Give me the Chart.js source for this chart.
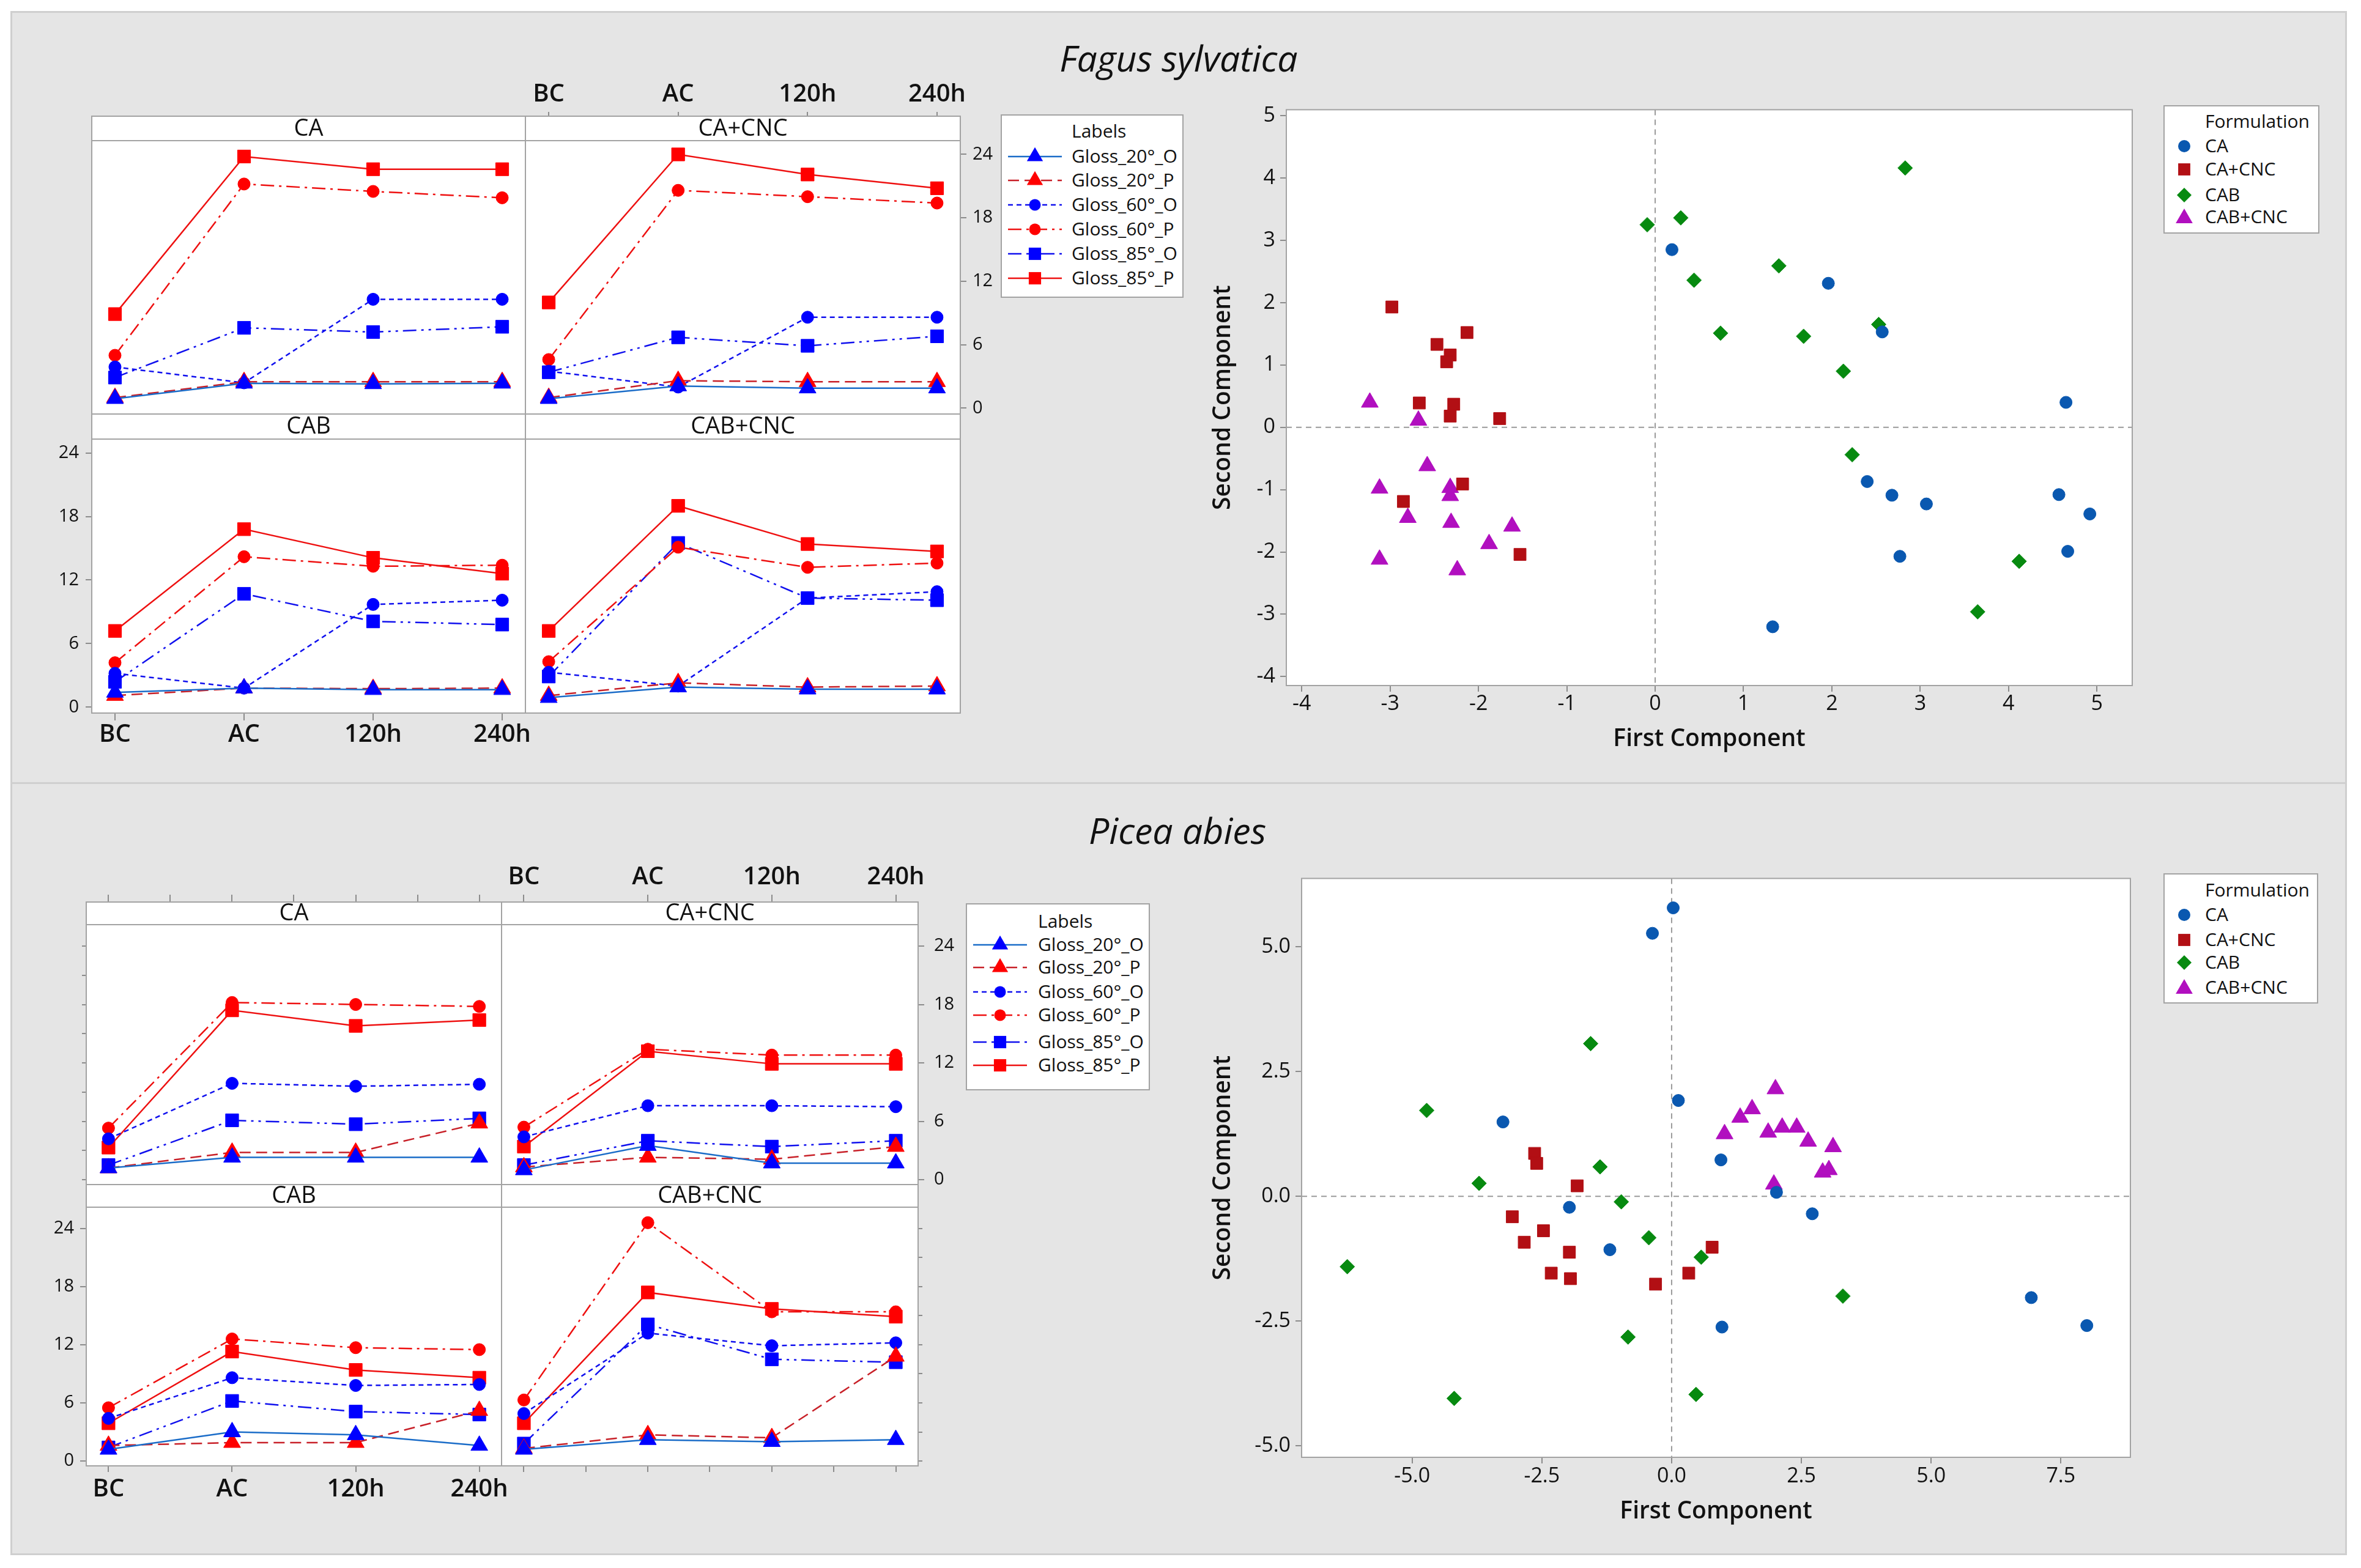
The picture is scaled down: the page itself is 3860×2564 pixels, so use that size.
<!DOCTYPE html>
<html>
<head>
<meta charset="utf-8">
<title>Gloss interaction plots and PCA scores</title>
<script src="https://cdn.jsdelivr.net/npm/chart.js@4.4.1/dist/chart.umd.min.js"></script>
<style>
  body { margin: 0; width: 3860px; height: 2564px; position: relative; overflow: hidden; background: #fff;
         font-family: 'Open Sans', 'Noto Sans', sans-serif; color: #111; }
  .frame { position: absolute; left: 17px; width: 3820px; box-sizing: border-box; background: #e5e5e5; border: 3px solid #cfcfcf; }
  .title { position: absolute; font-style: italic; font-weight: 500; font-size: 59px; transform: translate(-50%, -50%); white-space: nowrap; }
  canvas { position: absolute; }
  .legend { position: absolute; box-sizing: border-box; background: #fff; border: 2px solid #a3a3a3; }
  .legend .head, .legend .row { position: absolute; white-space: nowrap; font-size: 30px; font-weight: 500; line-height: 1; }
  .legend svg { position: absolute; }
</style>
</head>
<body>
<div class="frame" style="top:18px;height:1264px"></div>
<div class="frame" style="top:1279px;height:1264px"></div>
<div class="title" style="left:1927px;top:94px">Fagus sylvatica</div>
<div class="title" style="left:1925px;top:1357px">Picea abies</div>
<script>
// ── Categories and tick labels ────────────────────────────────────────────
const TIME_LABELS  = ['BC', 'AC', '120h', '240h'];
const GLOSS_SERIES = ['Gloss_20°_O', 'Gloss_20°_P', 'Gloss_60°_O', 'Gloss_60°_P', 'Gloss_85°_O', 'Gloss_85°_P'];
const FORMULATIONS = ['CA', 'CA+CNC', 'CAB', 'CAB+CNC'];
const TIME_TICKS        = [0, 1, 2, 3];
const TIME_MINOR_TICKS  = [0, 0.5, 1, 1.5, 2, 2.5, 3];
const GLOSS_TICKS       = [0, 6, 12, 18, 24];
const GLOSS_MINOR_TICKS = [0, 3, 6, 9, 12, 15, 18, 21, 24];

// ── Fagus sylvatica gloss (rows = GLOSS_SERIES, cols = TIME_LABELS) ───────
const fagusCA = [
  [0.9, 2.35, 2.3, 2.35],
  [1.0, 2.5, 2.5, 2.5],
  [3.9, 2.4, 10.3, 10.3],
  [5.0, 21.2, 20.5, 19.9],
  [2.9, 7.6, 7.2, 7.7],
  [8.9, 23.8, 22.6, 22.6]
];
const fagusCACNC = [
  [0.9, 2.1, 1.9, 1.9],
  [1.0, 2.6, 2.5, 2.5],
  [3.5, 2.0, 8.6, 8.6],
  [4.6, 20.6, 20.0, 19.4],
  [3.4, 6.7, 5.9, 6.8],
  [10.0, 24.0, 22.1, 20.8]
];
const fagusCAB = [
  [1.4, 1.8, 1.65, 1.65],
  [1.1, 1.8, 1.75, 1.8],
  [3.2, 1.8, 9.7, 10.1],
  [4.2, 14.2, 13.3, 13.4],
  [2.4, 10.7, 8.1, 7.8],
  [7.2, 16.8, 14.1, 12.6]
];
const fagusCABCNC = [
  [0.9, 1.9, 1.7, 1.7],
  [1.1, 2.3, 1.9, 2.0],
  [3.3, 2.0, 10.3, 10.9],
  [4.3, 15.1, 13.2, 13.6],
  [2.9, 15.5, 10.3, 10.1],
  [7.2, 19.0, 15.4, 14.7]
];

// ── Picea abies gloss ─────────────────────────────────────────────────────
const piceaCA = [
  [1.2, 2.3, 2.3, 2.3],
  [1.2, 2.8, 2.8, 5.8],
  [4.2, 9.9, 9.6, 9.8],
  [5.3, 18.2, 18.0, 17.8],
  [1.5, 6.1, 5.7, 6.3],
  [3.3, 17.4, 15.8, 16.4]
];
const piceaCACNC = [
  [1.0, 3.5, 1.7, 1.7],
  [1.3, 2.3, 2.1, 3.4],
  [4.4, 7.6, 7.6, 7.5],
  [5.4, 13.4, 12.8, 12.8],
  [1.5, 4.0, 3.4, 4.0],
  [3.4, 13.2, 11.9, 11.9]
];
const piceaCAB = [
  [1.2, 3.0, 2.7, 1.6],
  [1.6, 1.9, 1.9, 5.2],
  [4.4, 8.6, 7.8, 7.9],
  [5.5, 12.6, 11.7, 11.5],
  [1.4, 6.2, 5.1, 4.8],
  [3.9, 11.3, 9.4, 8.6]
];
const piceaCABCNC = [
  [1.2, 2.2, 2.0, 2.2],
  [1.3, 2.7, 2.4, 10.8],
  [4.9, 13.2, 11.9, 12.2],
  [6.3, 24.6, 15.4, 15.4],
  [1.8, 14.1, 10.5, 10.2],
  [3.9, 17.4, 15.7, 14.9]
];

// ── PCA scores [first, second] ────────────────────────────────────────────
const fagusScoresCA = [[0.19, 2.85], [1.96, 2.31], [2.57, 1.53], [4.65, 0.40], [2.40, -0.87], [2.68, -1.09],
                       [3.07, -1.23], [4.57, -1.08], [4.92, -1.39], [2.77, -2.07], [4.67, -1.99], [1.33, -3.20]];
const fagusScoresCACNC = [[-2.98, 1.93], [-2.13, 1.52], [-2.47, 1.33], [-2.32, 1.16], [-2.36, 1.05], [-2.67, 0.39],
                          [-2.28, 0.37], [-2.32, 0.18], [-1.76, 0.14], [-2.18, -0.91], [-2.85, -1.19], [-1.53, -2.04]];
const fagusScoresCAB = [[2.83, 4.16], [-0.09, 3.25], [0.29, 3.36], [0.44, 2.36], [1.40, 2.59], [0.74, 1.51],
                        [1.68, 1.46], [2.53, 1.65], [2.13, 0.90], [2.23, -0.44], [4.12, -2.15], [3.65, -2.96]];
const fagusScoresCABCNC = [[-3.23, 0.40], [-2.68, 0.11], [-2.58, -0.62], [-3.12, -0.98], [-2.32, -0.97], [-2.32, -1.10],
                           [-2.80, -1.45], [-2.31, -1.53], [-1.62, -1.59], [-1.88, -1.87], [-3.12, -2.12], [-2.24, -2.29]];

const piceaScoresCA = [[0.03, 5.78], [-0.37, 5.27], [0.13, 1.92], [-3.25, 1.49], [0.95, 0.73], [2.02, 0.08],
                       [-1.97, -0.22], [2.71, -0.35], [-1.19, -1.07], [0.97, -2.62], [6.93, -2.03], [8.00, -2.59]];
const piceaScoresCACNC = [[-2.64, 0.86], [-2.60, 0.66], [-1.82, 0.21], [-3.07, -0.41], [-2.47, -0.69], [-2.84, -0.92],
                          [-1.97, -1.12], [-2.32, -1.54], [-1.95, -1.65], [-0.31, -1.76], [0.33, -1.54], [0.78, -1.02]];
const piceaScoresCAB = [[-1.56, 3.06], [-4.72, 1.72], [-1.38, 0.59], [-3.71, 0.26], [-0.97, -0.11], [-0.44, -0.83],
                        [0.57, -1.22], [3.30, -2.00], [-6.25, -1.41], [-0.84, -2.82], [-4.19, -4.05], [0.47, -3.97]];
const piceaScoresCABCNC = [[2.00, 2.15], [1.55, 1.75], [1.32, 1.58], [1.02, 1.25], [1.86, 1.28], [2.13, 1.38],
                           [2.41, 1.38], [2.63, 1.10], [3.11, 0.99], [2.91, 0.48], [3.03, 0.53], [1.97, 0.24]];

const FAGUS_PC_TICKS = [-4, -3, -2, -1, 0, 1, 2, 3, 4, 5];
const PICEA_PC1_TICKS = [-5, -2.5, 0, 2.5, 5, 7.5];
const PICEA_PC2_TICKS = [-5, -2.5, 0, 2.5, 5];

// ── Styles ────────────────────────────────────────────────────────────────
Chart.defaults.font.family = "'Open Sans', 'Noto Sans', sans-serif";
Chart.defaults.color = '#111';

const FRAME = '#a3a3a3';
const TICK  = '#8c8c8c';
const TIME_RANGE = [-0.18, 3.18];

const SERIES_STYLE = [
  { line: '#1a6cc8', point: '#0000ff', dash: [],                   shape: 'triangle', r: 16 },
  { line: '#c82028', point: '#ff0000', dash: [18, 9],              shape: 'triangle', r: 16 },
  { line: '#1010ee', point: '#0000ff', dash: [8, 6],               shape: 'circle',   r: 10 },
  { line: '#ee1010', point: '#ff0000', dash: [22, 8, 4, 8],        shape: 'circle',   r: 10 },
  { line: '#1010ee', point: '#0000ff', dash: [22, 8, 4, 8, 4, 8],  shape: 'rect',     r: 15 },
  { line: '#ee1010', point: '#ff0000', dash: [],                   shape: 'rect',     r: 15 },
];

const FORMULATION_STYLE = [
  { color: '#0a58b0', shape: 'circle',   r: 10 },
  { color: '#b20f14', shape: 'rect',     r: 14 },
  { color: '#078a10', shape: 'rectRot',  r: 12 },
  { color: '#b10fbf', shape: 'triangle', r: 16 },
];

// ── Plugins ───────────────────────────────────────────────────────────────
const panelDecor = {
  id: 'panelDecor',
  beforeDraw(chart, args, opts) {
    const { ctx, chartArea: a } = chart;
    ctx.save();
    ctx.fillStyle = '#fff';
    ctx.fillRect(a.left, a.top - opts.stripH, a.right - a.left, a.bottom - a.top + opts.stripH);
    ctx.restore();
  },
  afterDraw(chart, args, opts) {
    const { ctx, chartArea: a } = chart;
    const top = a.top - opts.stripH;
    ctx.save();
    ctx.fillStyle = '#fff';
    ctx.fillRect(a.left, top, a.right - a.left, opts.stripH);
    ctx.strokeStyle = FRAME;
    ctx.lineWidth = 2;
    ctx.strokeRect(a.left, top, a.right - a.left, a.bottom - top);
    ctx.beginPath();
    ctx.moveTo(a.left, a.top);
    ctx.lineTo(a.right, a.top);
    ctx.stroke();
    ctx.fillStyle = '#111';
    ctx.font = "500 38px 'Open Sans', 'Noto Sans', sans-serif";
    ctx.textAlign = 'center';
    ctx.textBaseline = 'middle';
    ctx.fillText(opts.title, (a.left + a.right) / 2, top + opts.stripH / 2 + 1);
    ctx.restore();
  }
};

const pcaDecor = {
  id: 'pcaDecor',
  beforeDraw(chart) {
    const { ctx, chartArea: a } = chart;
    ctx.save();
    ctx.fillStyle = '#fff';
    ctx.fillRect(a.left, a.top, a.right - a.left, a.bottom - a.top);
    ctx.restore();
  },
  beforeDatasetsDraw(chart) {
    const { ctx, chartArea: a, scales } = chart;
    const x0 = scales.x.getPixelForValue(0), y0 = scales.y.getPixelForValue(0);
    ctx.save();
    ctx.strokeStyle = '#9a9a9a';
    ctx.lineWidth = 2;
    ctx.setLineDash([9, 7]);
    ctx.beginPath();
    ctx.moveTo(x0, a.top); ctx.lineTo(x0, a.bottom);
    ctx.moveTo(a.left, y0); ctx.lineTo(a.right, y0);
    ctx.stroke();
    ctx.restore();
  },
  afterDraw(chart) {
    const { ctx, chartArea: a } = chart;
    ctx.save();
    ctx.strokeStyle = FRAME;
    ctx.lineWidth = 2;
    ctx.strokeRect(a.left, a.top, a.right - a.left, a.bottom - a.top);
    ctx.restore();
  }
};

// ── Axis builders ─────────────────────────────────────────────────────────
function timeAxis(position, mode, size, tickLength, padding) {
  return {
    type: 'linear', position, min: TIME_RANGE[0], max: TIME_RANGE[1],
    afterFit: s => { s.height = size; },
    afterBuildTicks: s => { s.ticks = (mode === 'minor' ? TIME_MINOR_TICKS : TIME_TICKS).map(v => ({ value: v })); },
    border: { display: false },
    grid: { display: !!mode, drawOnChartArea: false, tickLength, color: TICK, lineWidth: 2 },
    ticks: { display: mode === 'labels', autoSkip: false, maxRotation: 0, padding,
             font: { size: 40, weight: '600' }, color: '#111', callback: v => TIME_LABELS[v] ?? '' }
  };
}

function glossAxis(position, mode, size, range, tickLength, padding) {
  return {
    type: 'linear', position, min: range[0], max: range[1],
    afterFit: s => { s.width = size; },
    afterBuildTicks: s => { s.ticks = (mode === 'minor' ? GLOSS_MINOR_TICKS : GLOSS_TICKS).map(v => ({ value: v })); },
    border: { display: false },
    grid: { display: !!mode, drawOnChartArea: false, tickLength: mode === 'minor' ? 7 : tickLength, color: TICK, lineWidth: 2 },
    ticks: { display: mode === 'labels', autoSkip: false, padding, font: { size: 29, weight: '500' }, color: '#111' }
  };
}

// ── One facet of an interaction plot ─────────────────────────────────────
function makePanel(plot, col, row, values, axes) {
  const M = 110;
  const left = plot.cols[col], right = plot.cols[col + 1];
  const r = plot.rows[row];
  const stripH = r.top - r.strip;
  const cv = document.createElement('canvas');
  cv.width = right - left + 2 * M;
  cv.height = r.bottom - r.strip + 2 * M;
  cv.style.left = (left - M) + 'px';
  cv.style.top = (r.strip - M) + 'px';
  document.body.appendChild(cv);

  const datasets = GLOSS_SERIES.map((name, i) => {
    const st = SERIES_STYLE[i];
    return {
      label: name,
      data: values[i].map((v, t) => ({ x: t, y: v })),
      borderColor: st.line, borderWidth: 2.5, borderDash: st.dash,
      pointStyle: st.shape, pointRadius: st.r,
      pointBackgroundColor: st.point, pointBorderColor: st.point, pointBorderWidth: 1,
      tension: 0, fill: false
    };
  });

  const t = plot.ticks;
  new Chart(cv, {
    type: 'line',
    data: { datasets },
    options: {
      responsive: false, animation: false,
      layout: { padding: 0 },
      plugins: { legend: { display: false }, tooltip: { enabled: false },
                 panelDecor: { stripH, title: FORMULATIONS[row * 2 + col] } },
      scales: {
        x:      timeAxis('bottom', axes.bottom, M, t.bottom[0], t.bottom[1]),
        xTop:   timeAxis('top', axes.top, M + stripH, stripH + t.top[0], t.top[1]),
        y:      glossAxis('left', axes.left, M, plot.range, t.left[0], t.left[1]),
        yRight: glossAxis('right', axes.right, M, plot.range, t.right[0], t.right[1])
      }
    },
    plugins: [panelDecor]
  });
}

// ── PCA score plot ────────────────────────────────────────────────────────
function makePca(cfg, groups) {
  const pl = cfg.plot;
  const cv = document.createElement('canvas');
  cv.width = cfg.right - cfg.left;
  cv.height = cfg.bottom - cfg.top;
  cv.style.left = cfg.left + 'px';
  cv.style.top = cfg.top + 'px';
  document.body.appendChild(cv);

  const datasets = FORMULATIONS.map((name, i) => {
    const st = FORMULATION_STYLE[i];
    return {
      label: name,
      data: groups[i].map(([x, y]) => ({ x, y })),
      pointStyle: st.shape, pointRadius: st.r,
      backgroundColor: st.color, borderColor: st.color, borderWidth: 1
    };
  });

  const tickGrid = { drawOnChartArea: false, tickLength: 10, color: TICK, lineWidth: 2 };
  const titleFont = { size: 39, weight: '600' };
  new Chart(cv, {
    type: 'scatter',
    data: { datasets },
    options: {
      responsive: false, animation: false,
      layout: { padding: { top: pl.top - cfg.top, right: cfg.right - pl.right, left: 0, bottom: 0 } },
      plugins: { legend: { display: false }, tooltip: { enabled: false } },
      scales: {
        x: {
          type: 'linear', min: cfg.xRange[0], max: cfg.xRange[1],
          afterFit: s => { s.height = cfg.bottom - pl.bottom; },
          afterBuildTicks: s => { s.ticks = cfg.xTicks.map(v => ({ value: v })); },
          border: { display: false }, grid: tickGrid,
          ticks: { font: { size: 34, weight: '500' }, padding: cfg.xPad, autoSkip: false, maxRotation: 0, callback: cfg.fmt },
          title: { display: true, text: 'First Component', font: titleFont, padding: 0, color: '#111' }
        },
        y: {
          type: 'linear', min: cfg.yRange[0], max: cfg.yRange[1],
          afterFit: s => { s.width = pl.left - cfg.left; },
          afterBuildTicks: s => { s.ticks = cfg.yTicks.map(v => ({ value: v })); },
          border: { display: false }, grid: tickGrid,
          ticks: { font: { size: 34, weight: '500' }, padding: 8, autoSkip: false, callback: cfg.fmt },
          title: { display: true, text: 'Second Component', font: titleFont, padding: 0, color: '#111' }
        }
      }
    },
    plugins: [pcaDecor]
  });
}

// ── HTML legends ──────────────────────────────────────────────────────────
function markerSvg(shape, color, cx, cy, r) {
  if (shape === 'circle') return `<circle cx="${cx}" cy="${cy}" r="${r}" fill="${color}"/>`;
  if (shape === 'rect') {
    const s = r * Math.SQRT1_2;
    return `<rect x="${cx - s}" y="${cy - s}" width="${2 * s}" height="${2 * s}" fill="${color}"/>`;
  }
  if (shape === 'rectRot') return `<polygon points="${cx},${cy - r} ${cx + r},${cy} ${cx},${cy + r} ${cx - r},${cy}" fill="${color}"/>`;
  const dx = r * Math.sqrt(3) / 2;
  return `<polygon points="${cx},${cy - r} ${cx + dx},${cy + r / 2} ${cx - dx},${cy + r / 2}" fill="${color}"/>`;
}

function boxDiv(box) {
  const div = document.createElement('div');
  div.className = 'legend';
  Object.assign(div.style, { left: box.left + 'px', top: box.top + 'px', width: box.w + 'px', height: box.h + 'px' });
  document.body.appendChild(div);
  return div;
}

function glossLegend(box) {
  const div = boxDiv(box);
  let html = `<div class="head" style="left:${box.textX}px;top:${box.titleY}px;transform:translateY(-55%)">Labels</div>`;
  GLOSS_SERIES.forEach((name, i) => {
    const st = SERIES_STYLE[i], y = box.rows[i];
    html += `<svg style="left:${box.lineX}px;top:${y - 18}px" width="${box.lineW}" height="36">` +
            `<line x1="0" y1="18" x2="${box.lineW}" y2="18" stroke="${st.line}" stroke-width="2.5" stroke-dasharray="${st.dash.length ? st.dash.join(' ') : 'none'}"/>` +
            markerSvg(st.shape, st.point, box.lineW / 2, 18, st.r * 0.95) + `</svg>` +
            `<div class="row" style="left:${box.textX}px;top:${y}px;transform:translateY(-55%)">${name}</div>`;
  });
  div.innerHTML = html;
}

function pcaLegend(box) {
  const div = boxDiv(box);
  let html = `<div class="head" style="left:${box.textX}px;top:${box.titleY}px;transform:translateY(-55%)">Formulation</div>`;
  FORMULATIONS.forEach((name, i) => {
    const st = FORMULATION_STYLE[i], y = box.rows[i];
    html += `<svg style="left:${box.markerX - 18}px;top:${y - 18}px" width="36" height="36">` +
            markerSvg(st.shape, st.color, 18, st.shape === 'triangle' ? 20 : 18, st.r) + `</svg>` +
            `<div class="row" style="left:${box.textX}px;top:${y}px;transform:translateY(-55%)">${name}</div>`;
  });
  div.innerHTML = html;
}

// ── Layout ────────────────────────────────────────────────────────────────
const fagusPlot = {
  cols: [150, 859, 1570],
  rows: [{ strip: 190, top: 230, bottom: 677 }, { strip: 677, top: 718, bottom: 1166 }],
  range: [-0.55, 25.3],
  ticks: { top: [7, 4], bottom: [12, 0], left: [10, 11], right: [10, 10] }
};
const piceaPlot = {
  cols: [141, 820, 1501],
  rows: [{ strip: 1475, top: 1512, bottom: 1937 }, { strip: 1937, top: 1974, bottom: 2397 }],
  range: [-0.5, 26.2],
  ticks: { top: [12, 4], bottom: [10, 5], left: [10, 10], right: [10, 16] }
};

makePanel(fagusPlot, 0, 0, fagusCA,     { top: null, bottom: null, left: null, right: null });
makePanel(fagusPlot, 1, 0, fagusCACNC,  { top: 'labels', bottom: null, left: null, right: 'labels' });
makePanel(fagusPlot, 0, 1, fagusCAB,    { top: null, bottom: 'labels', left: 'labels', right: null });
makePanel(fagusPlot, 1, 1, fagusCABCNC, { top: null, bottom: null, left: null, right: null });

makePanel(piceaPlot, 0, 0, piceaCA,     { top: 'minor', bottom: null, left: 'minor', right: null });
makePanel(piceaPlot, 1, 0, piceaCACNC,  { top: 'labels', bottom: null, left: null, right: 'labels' });
makePanel(piceaPlot, 0, 1, piceaCAB,    { top: null, bottom: 'labels', left: 'labels', right: null });
makePanel(piceaPlot, 1, 1, piceaCABCNC, { top: null, bottom: 'minor', left: null, right: 'minor' });

glossLegend({ left: 1636, top: 187, w: 299, h: 300, titleY: 26,
              rows: [67, 106, 146, 186, 226, 266], lineX: 10, lineW: 88, textX: 114 });
glossLegend({ left: 1579, top: 1477, w: 301, h: 306, titleY: 28,
              rows: [66, 103, 143, 181, 225, 263], lineX: 10, lineW: 88, textX: 116 });

makePca({ left: 1976, top: 151, right: 3503, bottom: 1232,
          plot: { left: 2103, top: 171, right: 3493, bottom: 1121 },
          xRange: [-4.175, 5.40], yRange: [-4.143, 5.095],
          xTicks: FAGUS_PC_TICKS, yTicks: FAGUS_PC_TICKS, xPad: 0, fmt: v => String(v) },
        [fagusScoresCA, fagusScoresCACNC, fagusScoresCAB, fagusScoresCABCNC]);

makePca({ left: 1976, top: 1408, right: 3500, bottom: 2495,
          plot: { left: 2128, top: 1428, right: 3490, bottom: 2383 },
          xRange: [-7.13, 8.84], yRange: [-5.23, 6.37],
          xTicks: PICEA_PC1_TICKS, yTicks: PICEA_PC2_TICKS, xPad: 1, fmt: v => v.toFixed(1) },
        [piceaScoresCA, piceaScoresCACNC, piceaScoresCAB, piceaScoresCABCNC]);

pcaLegend({ left: 3537, top: 172, w: 255, h: 210, titleY: 25, rows: [65, 103, 145, 181], markerX: 32, textX: 66 });
pcaLegend({ left: 3537, top: 1428, w: 253, h: 213, titleY: 26, rows: [66, 107, 144, 185], markerX: 32, textX: 66 });
</script>
</body>
</html>
